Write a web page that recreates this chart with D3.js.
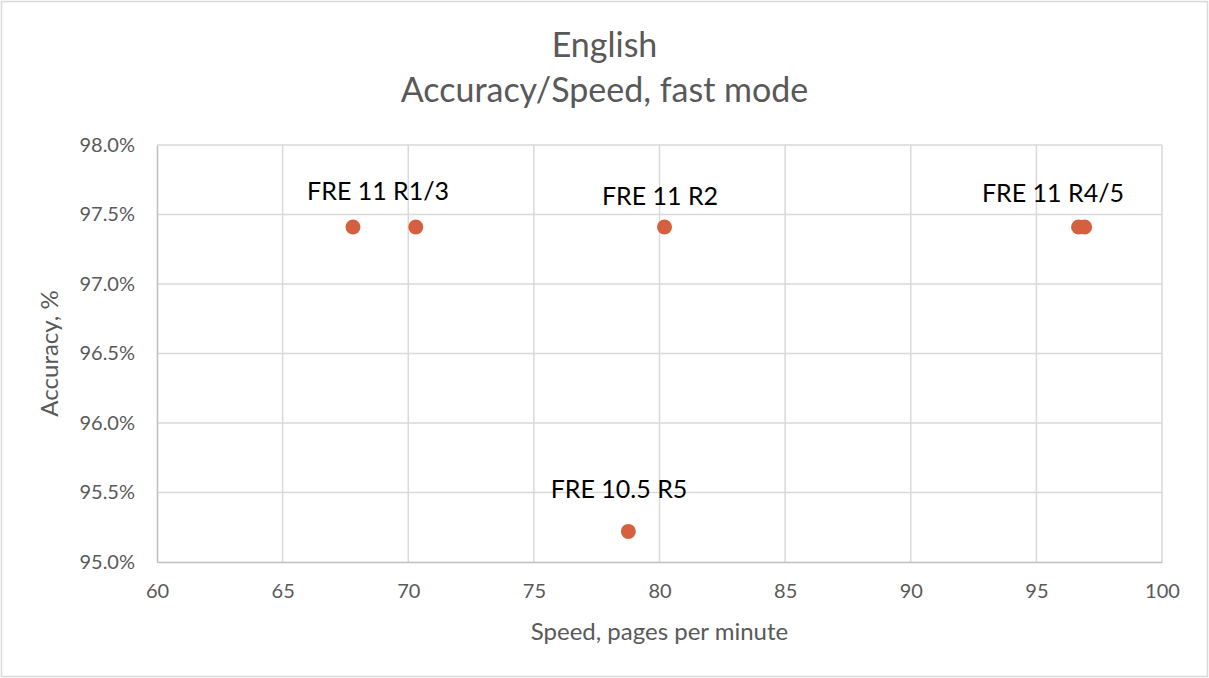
<!DOCTYPE html>
<html>
<head>
<meta charset="utf-8">
<script src="https://cdn.jsdelivr.net/npm/d3@7"></script>
<style>
  body { margin: 0; background: #fff; }
  svg { display: block; font-family: Lato, "Open Sans", sans-serif; }
</style>
</head>
<body>
<div id="chart_div"></div>
<script>
// data
var speed    = [67.8, 70.3, 80.2, 96.68, 96.92, 78.76];
var accuracy = [97.41, 97.41, 97.41, 97.41, 97.41, 95.22];

var labelText = ["FRE 11 R1/3", "FRE 11 R2", "FRE 11 R4/5", "FRE 10.5 R5"];
var labelX    = [68.8, 80.02, 95.66, 78.39];
var labelY    = [97.604, 97.568, 97.589, 95.457];

var xTicks = [60, 65, 70, 75, 80, 85, 90, 95, 100];
var yTicks = [95.0, 95.5, 96.0, 96.5, 97.0, 97.5, 98.0];

var w = 1209, h = 678;
var margin = {top: 145, right: 47, bottom: 116, left: 157};

var chart = d3.select("#chart_div")
    .append('svg')
    .attr('width', w)
    .attr('height', h);

// outer frame
chart.append('rect')
    .attr('x', 1.5).attr('y', 1.5)
    .attr('width', w - 3).attr('height', h - 3)
    .attr('fill', '#fff')
    .attr('stroke', '#d9d9d9')
    .attr('stroke-width', 1.5);

var x = d3.scaleLinear().domain([60, 100]).range([margin.left, w - margin.right]);
var y = d3.scaleLinear().domain([95, 98]).range([h - margin.bottom, margin.top]);

// gridlines
chart.append('g')
    .selectAll('line.v')
    .data(xTicks.slice(1))
    .join('line')
    .attr('x1', d => x(d)).attr('x2', d => x(d))
    .attr('y1', y(95)).attr('y2', y(98))
    .style('stroke', '#d9d9d9')
    .style('stroke-width', 1.5);

chart.append('g')
    .selectAll('line.h')
    .data(yTicks.slice(1))
    .join('line')
    .attr('x1', x(60)).attr('x2', x(100))
    .attr('y1', d => y(d)).attr('y2', d => y(d))
    .style('stroke', '#d9d9d9')
    .style('stroke-width', 1.5);

// axes
var xAxis = chart.append('g')
    .attr('transform', 'translate(0,' + y(95) + ')')
    .call(d3.axisBottom(x).tickValues(xTicks).tickSize(0).tickPadding(22).tickFormat(d3.format('d')));
var yAxis = chart.append('g')
    .attr('transform', 'translate(' + x(60) + ',0)')
    .call(d3.axisLeft(y).tickValues(yTicks).tickSize(0).tickPadding(22).tickFormat(d => d.toFixed(1) + '%'));

[xAxis, yAxis].forEach(function(a){
    a.select('.domain').style('stroke', '#bfbfbf').style('stroke-width', 1.5);
    a.selectAll('text')
        .style('font-family', 'Lato, "Open Sans", sans-serif')
        .style('font-size', '20px')
        .style('fill', '#595959');
});

// points
chart.append('g')
    .selectAll('circle')
    .data(speed)
    .join('circle')
    .attr('cx', (d, i) => x(d))
    .attr('cy', (d, i) => y(accuracy[i]))
    .attr('r', 7.5)
    .attr('fill', '#d5603f');

// data labels
chart.append('g')
    .selectAll('text')
    .data(labelText)
    .join('text')
    .attr('x', (d, i) => x(labelX[i]))
    .attr('y', (d, i) => y(labelY[i]))
    .attr('text-anchor', 'middle')
    .style('font-size', '25px')
    .style('fill', '#000')
    .text(d => d);

// titles
chart.append('text')
    .attr('x', w / 2).attr('y', 57)
    .attr('text-anchor', 'middle')
    .style('font-size', '34px')
    .style('fill', '#595959')
    .text('English');
chart.append('text')
    .attr('x', w / 2).attr('y', 102)
    .attr('text-anchor', 'middle')
    .style('font-size', '34px')
    .style('fill', '#595959')
    .text('Accuracy/Speed, fast mode');

chart.append('text')
    .attr('x', (x(60) + x(100)) / 2).attr('y', 640)
    .attr('text-anchor', 'middle')
    .style('font-size', '24px')
    .style('fill', '#595959')
    .text('Speed, pages per minute');

chart.append('text')
    .attr('transform', 'translate(58,' + ((y(95) + y(98)) / 2) + ') rotate(-90)')
    .attr('text-anchor', 'middle')
    .style('font-size', '24px')
    .style('fill', '#595959')
    .text('Accuracy, %');
</script>
</body>
</html>
